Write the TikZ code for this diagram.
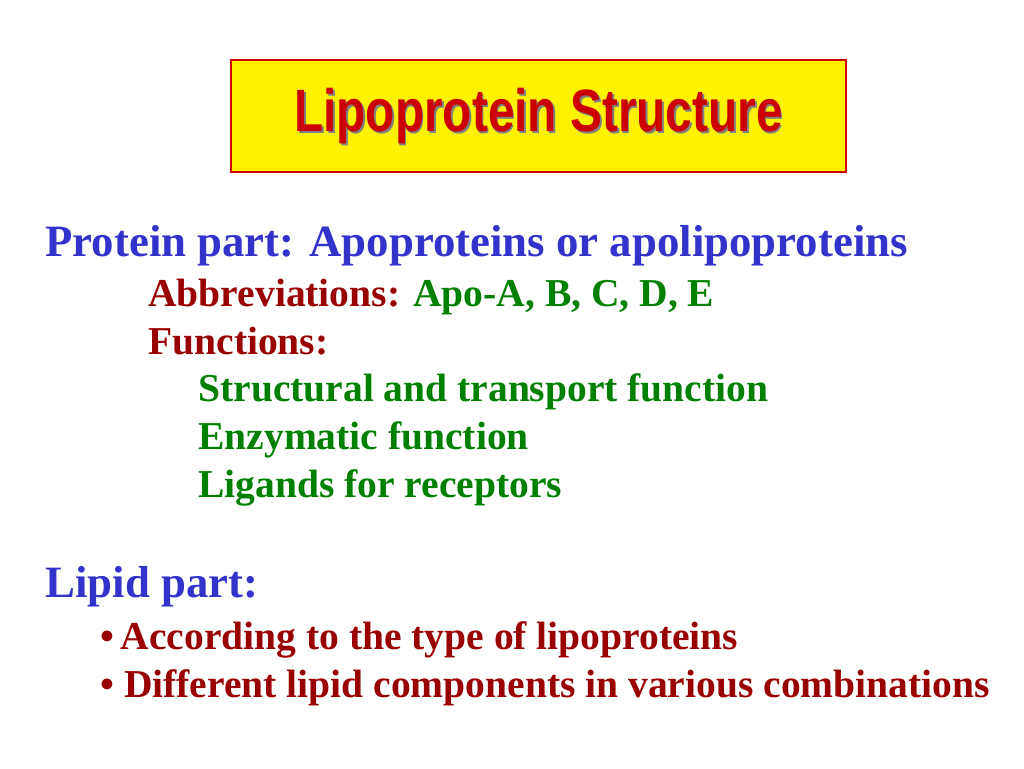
\documentclass[tikz,border=0pt]{standalone}
\usepackage{fontspec}
\setmainfont{Liberation Serif}
\newfontfamily\titlefont{Liberation Sans}
\definecolor{headblue}{RGB}{51,51,204}
\definecolor{leafgreen}{RGB}{0,128,0}
\definecolor{darkred}{RGB}{153,0,0}
\definecolor{titlered}{RGB}{204,0,0}
\tikzset{
  line/.style={anchor=base west, inner sep=0pt, font=\bfseries\fontsize{22.5}{26}\selectfont},
  head/.style={line, text=headblue, font=\bfseries\fontsize{25.5}{30}\selectfont},
}
\begin{document}
\begin{tikzpicture}[x=0.02cm,y=-0.02cm]
\useasboundingbox (0,0) rectangle (1024,768);
% title box
\node[draw=titlered, line width=1.2pt, fill=yellow, minimum width=615*0.02cm, minimum height=112*0.02cm, anchor=north west] (titlebox) at (230,59) {};
\node[text=black!50, font=\titlefont\bfseries\fontsize{34}{38}\selectfont, xscale=0.8] at ([xshift=1pt,yshift=-1pt]titlebox.center) {Lipoprotein Structure};
\node[text=titlered, font=\titlefont\bfseries\fontsize{34}{38}\selectfont, xscale=0.8] (title) at (titlebox.center) {Lipoprotein Structure};
% protein part
\node[head] (protein) at (45,256) {Protein part: Apoproteins or apolipoproteins};
\node[line, text=darkred] (abbr) at (148,306) {Abbreviations: \textcolor{leafgreen}{Apo-A, B, C, D, E}};
\node[line, text=darkred] (func) at (148,354) {Functions:};
\node[line, text=leafgreen] (f1) at (198,401) {Structural and transport function};
\node[line, text=leafgreen] (f2) at (198,449) {Enzymatic function};
\node[line, text=leafgreen] (f3) at (198,497) {Ligands for receptors};
% lipid part
\node[head] (lipid) at (45,597) {Lipid part:};
\node[line, text=darkred] (l1) at (100,649) {\textbullet\,According to the type of lipoproteins};
\node[line, text=darkred] (l2) at (100,697) {\textbullet\ Different lipid components in various combinations};
\end{tikzpicture}
\end{document}
